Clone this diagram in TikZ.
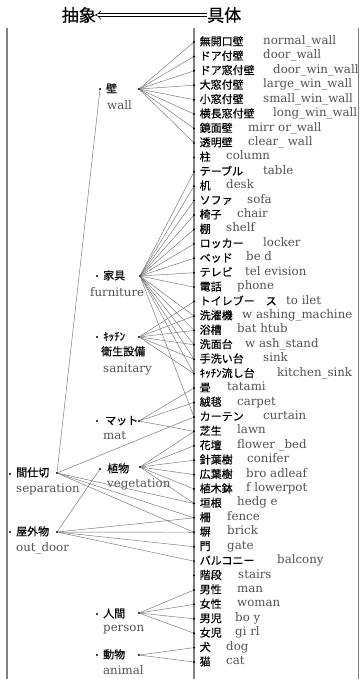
\documentclass[tikz,border=0pt]{standalone}
\usepackage{fontspec}
\setmainfont{DejaVu Serif}
\newfontfamily\jp[FakeBold=0.5]{Noto Sans CJK JP}
\usetikzlibrary{arrows.meta}
\begin{document}
\begin{tikzpicture}[x=1pt,y=-1pt,
  conn/.style={draw=black!55, line width=0.45pt},
  vline/.style={draw=black!50, line width=1.8pt},
  jpt/.style={font=\jp\fontsize{11}{11}\selectfont, text=black, inner sep=0pt, anchor=west, text height=8.5pt, text depth=1.5pt},
  ent/.style={font=\fontsize{11.8}{12}\selectfont, text=black!68, inner sep=0pt, anchor=west, text height=7.5pt, text depth=2.5pt},
  pt/.style={circle, fill=black, inner sep=0pt, minimum size=2.2pt},
  mpt/.style={circle, fill=black, inner sep=0pt, minimum size=2.4pt},
  hdr/.style={font=\jp\fontsize{17}{17}\selectfont, inner sep=0pt},
]
\useasboundingbox (0,0) rectangle (360,679);
% header
\node[hdr, anchor=east] (abs) at (96,15) {抽象};
\node[hdr, anchor=west] (con) at (207,15) {具体};
\draw[double, double distance=2.6pt, line width=0.6pt, -{Implies}] (con.west) -- ([xshift=-1pt]abs.east);
% vertical lines
\draw[vline] (7,28) -- (7,679);
\draw[vline] (194,28) -- (194,679);
\draw[draw=black!50, line width=1.2pt] (358.6,28) -- (358.6,679);
% leaves
\foreach \i/\jt/\et/\ex in {
 1/無開口壁/normal\_wall/263,
 2/ドア付壁/door\_wall/263,
 3/ドア窓付壁/door\_win\_wall/273,
 4/大窓付壁/large\_win\_wall/263,
 5/小窓付壁/small\_win\_wall/263,
 6/横長窓付壁/long\_win\_wall/273,
 7/鏡面壁/mirr or\_wall/248,
 8/透明壁/clear\_ wall/248,
 9/柱/column/226,
 10/テーブル/table/263,
 11/机/desk/226,
 12/ソファ/sofa/247,
 13/椅子/chair/237,
 14/棚/shelf/226,
 15/ロッカー/locker/263,
 16/ベッド/be d/246,
 17/テレビ/tel evision/245,
 18/電話/phone/237,
 19/トイレブー　ス/to ilet/286,
 20/洗濯機/w ashing\_machine/242,
 21/浴槽/bat htub/237,
 22/洗面台/w ash\_stand/245,
 23/手洗い台/sink/263,
 24/ｷｯﾁﾝ流し台/kitchen\_sink/277,
 25/畳/tatami/227,
 26/絨毯/carpet/237,
 27/カーテン/curtain/263,
 28/芝生/lawn/237,
 29/花壇/flower \_bed/237,
 30/針葉樹/conifer/247,
 31/広葉樹/bro adleaf/246,
 32/植木鉢/f lowerpot/246,
 33/垣根/hedg e/237,
 34/柵/fence/227,
 35/塀/brick/227,
 36/門/gate/227,
 37/バルコニー/balcony/277,
 38/階段/stairs/238,
 39/男性/man/237,
 40/女性/woman/237,
 41/男児/bo y/235,
 42/女児/gi rl/235,
 43/犬/dog/226,
 44/猫/cat/226}{
  \pgfmathsetmacro\yy{42+(\i-1)*14.42}
  \node[pt] (L\i) at (194,\yy) {};
  \node[jpt] (J\i) at (199.5,\yy) {\jt};
  \node[ent] (E\i) at (\ex,\yy) {\et};
}
% mid-level nodes
\node[mpt] (wallD) at (100,89) {};
\node[jpt] (wallJ) at (106,89) {壁};
\node[ent] (wallE) at (107,107) {wall};
\node[pt] (wallF) at (139,89) {};

\node[mpt] (furD) at (97,276) {};
\node[jpt] (furJ) at (103,276) {家具};
\node[ent] (furE) at (90,294) {furniture};
\node[pt] (furF) at (140,276) {};

\node[mpt] (sanD) at (97,337) {};
\node[jpt] (sanJ) at (103,337) {ｷｯﾁﾝ};
\node[jpt] (sanJ2) at (101,352) {衛生設備};
\node[ent] (sanE) at (103,370) {sanitary};
\node[pt] (sanF) at (139,337) {};

\node[mpt] (matD) at (97,421) {};
\node[jpt] (matJ) at (105,421) {マット};
\node[ent] (matE) at (103,437) {mat};
\node[pt] (matF) at (139,421) {};

\node[mpt] (vegD) at (100,469) {};
\node[jpt] (vegJ) at (107,469) {植物};
\node[ent] (vegE) at (107,485) {vegetation};
\node[pt] (vegF) at (140,467) {};

\node[mpt] (sepD) at (10,474) {};
\node[jpt] (sepJ) at (16,473) {間仕切};
\node[ent] (sepE) at (16,490) {separation};
\node[pt] (sepF) at (57,473) {};

\node[mpt] (outD) at (10,532) {};
\node[jpt] (outJ) at (16,532) {屋外物};
\node[ent] (outE) at (16,549) {out\_door};
\node[pt] (outF) at (57,532) {};

\node[mpt] (perD) at (97,614) {};
\node[jpt] (perJ) at (103,614) {人間};
\node[ent] (perE) at (103,629) {person};
\node[pt] (perF) at (139,613) {};

\node[mpt] (aniD) at (97,655) {};
\node[jpt] (aniJ) at (103,655) {動物};
\node[ent] (aniE) at (103,672) {animal};
\node[pt] (aniF) at (139,655) {};

% connectors
\foreach \t in {1,...,8} \draw[conn] (wallF) -- (L\t);
\foreach \t in {10,...,18,20,21,22,23,24,27} \draw[conn] (furF) -- (L\t);
\foreach \t in {19,...,24} \draw[conn] (sanF) -- (L\t);
\foreach \t in {25,26,28} \draw[conn] (matF) -- (L\t);
\foreach \t in {28,...,33} \draw[conn] (vegF) -- (L\t);
\foreach \t in {27,33,34,35} \draw[conn] (sepF) -- (L\t);
\draw[conn] (sepF) -- (wallD);
\foreach \t in {34,...,37} \draw[conn] (outF) -- (L\t);
\draw[conn] (outF) -- (vegD);
\foreach \t in {39,...,42} \draw[conn] (perF) -- (L\t);
\foreach \t in {43,44} \draw[conn] (aniF) -- (L\t);
\end{tikzpicture}
\end{document}
